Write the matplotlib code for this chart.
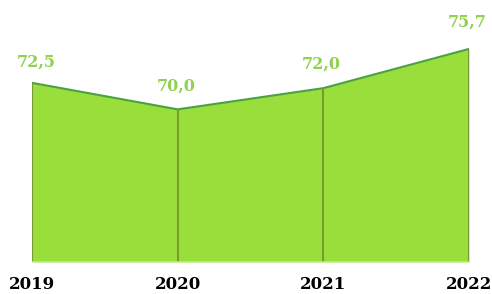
import matplotlib.pyplot as plt

years = ["2019", "2020", "2021", "2022"]
values = [72.5, 70.0, 72.0, 75.7]
labels = ["72,5", "70,0", "72,0", "75,7"]

fig = plt.figure(figsize=(4.92, 2.94), dpi=100)
ax = fig.add_axes([32 / 492, 1 - 262 / 294, (469 - 32) / 492, 262 / 294])

x = list(range(len(years)))
y0 = 55.6
ax.fill_between(x, values, y0, color="#9ADE3C", linewidth=0)
ax.plot(x, values, color="#48A23F", linewidth=1.5, solid_joinstyle="round")

# 竖向连线
ax.vlines(x, y0, values, color="#7A9A33", linewidth=1.5)
ax.axhline(y0, color="#C8D8B8", linewidth=1.2)

# 数据标签偏移（像素）
offsets = [(4, 21), (-1, 23), (-2, 24), (-2, 27)]
for xi, v, lab, (dx, dy) in zip(x, values, labels, offsets):
    ax.annotate(lab, (xi, v), xytext=(dx * 0.72, dy * 0.72), textcoords="offset points",
                ha="center", va="center", color="#92D050",
                fontsize=11.5, fontweight="bold", family="DejaVu Serif")

ax.set_xlim(0, len(x) - 1)
ax.set_ylim(y0, y0 + 262 / 10.6)
ax.set_xticks(x)
ax.set_xticklabels(years, fontsize=12, fontweight="bold", family="DejaVu Serif")
ax.tick_params(axis="x", length=0, pad=10)
ax.set_yticks([])
for s in ax.spines.values():
    s.set_visible(False)
ax.patch.set_alpha(0)

fig.savefig("out.png", dpi=100)
plt.close()
